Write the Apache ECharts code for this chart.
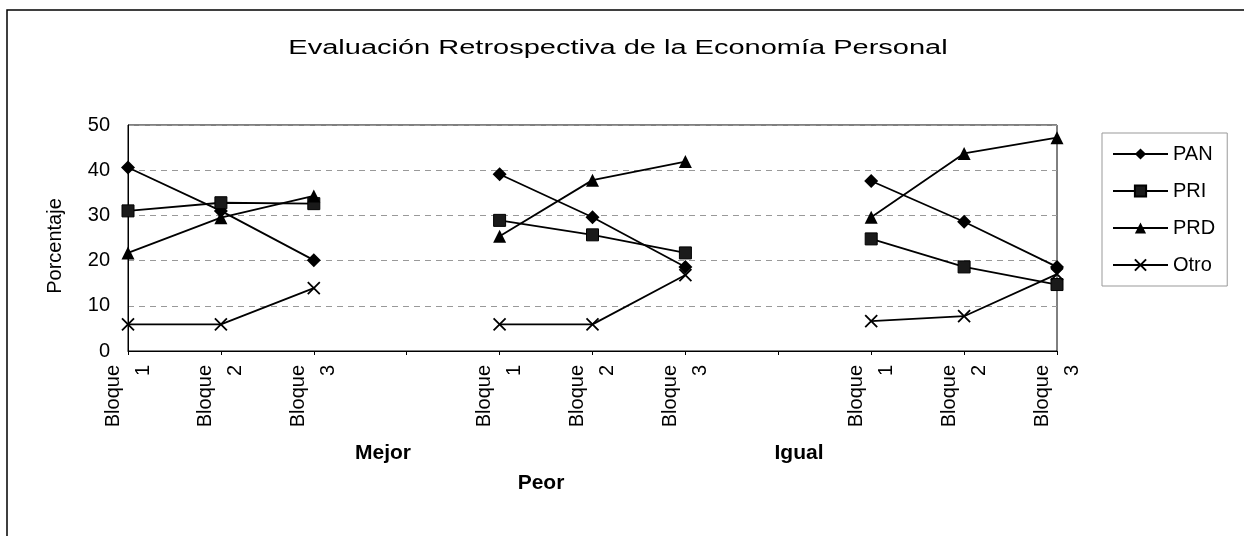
<!DOCTYPE html>
<html>
<head>
<meta charset="utf-8">
<script src="https://cdn.jsdelivr.net/npm/echarts@6/dist/echarts.min.js"></script>
<style>
  html, body { margin: 0; padding: 0; background: #fff; }
  #chart { width: 1244px; height: 536px; }
</style>
</head>
<body>
<div id="chart"></div>
<script>
// categorías: tres bloques por grupo, con un hueco entre grupos
const categories = [
  'Bloque\n1', 'Bloque\n2', 'Bloque\n3', '',
  'Bloque\n1', 'Bloque\n2', 'Bloque\n3', '',
  'Bloque\n1', 'Bloque\n2', 'Bloque\n3'
]
const groupLabels = ['Mejor', 'Peor', 'Igual']

// porcentajes ('-' = hueco)
const pan  = [40.6, 31.0, 20.1, '-', 39.1, 29.6, 18.6, '-', 37.6, 28.6, 18.6]
const pri  = [31.0, 32.8, 32.6, '-', 28.9, 25.7, 21.7, '-', 24.8, 18.6, 14.7]
const prd  = [21.7, 29.5, 34.3, '-', 25.4, 37.8, 41.9, '-', 29.6, 43.7, 47.2]
const otro = [5.9, 5.9, 13.9, '-', 5.9, 5.9, 16.8, '-', 6.6, 7.7, 17.0]

const FONT = 'Liberation Sans, Arial, sans-serif'
const crossPath = 'path://M0,0L10,10M10,0L0,10'

const chart = echarts.init(document.getElementById('chart'))

const mkSeries = (name, data, symbol, size, extra) => ({
  name,
  type: 'line',
  data,
  symbol,
  symbolSize: size,
  showSymbol: true,
  lineStyle: { color: '#000', width: 1.8 },
  itemStyle: Object.assign({ color: '#000' }, extra || {}),
  emphasis: { disabled: true },
  animation: false
})

const groupText = (label, x, y) => ({
  type: 'text',
  x,
  y,
  style: { text: label, font: 'bold 21px ' + FONT, fill: '#000', align: 'center', verticalAlign: 'middle' },
  silent: true
})

const option = {
  backgroundColor: '#fff',
  animation: false,
  textStyle: { fontFamily: FONT },
  grid: {
    left: 128,
    right: 187,
    top: 125,
    bottom: 185,
    show: true,
    borderColor: '#000',
    borderWidth: 1,
    backgroundColor: 'transparent'
  },
  legend: {
    orient: 'vertical',
    left: 1102,
    top: 133,
    data: ['PAN', 'PRI', 'PRD', 'Otro'],
    itemWidth: 55,
    itemHeight: 14,
    itemGap: 17,
    padding: [11, 12, 11, 10],
    borderColor: '#999',
    borderWidth: 1,
    textStyle: { fontFamily: FONT, fontSize: 20, color: '#000', lineHeight: 20 },
    selectedMode: false
  },
  xAxis: {
    type: 'category',
    data: categories,
    boundaryGap: false,
    axisLine: { lineStyle: { color: '#000', width: 1 } },
    axisTick: { show: true, inside: false, length: 4, interval: 0, lineStyle: { color: '#000' } },
    axisLabel: {
      interval: 0,
      rotate: 90,
      margin: 14,
      fontFamily: FONT,
      fontSize: 20,
      lineHeight: 30,
      color: '#000'
    },
    splitLine: { show: false }
  },
  yAxis: {
    type: 'value',
    min: 0,
    max: 50,
    interval: 10,
    name: 'Porcentaje',
    nameLocation: 'middle',
    nameGap: 63,
    nameTextStyle: { fontFamily: FONT, fontSize: 20, color: '#000', padding: [0, 16, 0, 0] },
    axisLine: { show: true, lineStyle: { color: '#000', width: 1 } },
    axisTick: { show: false },
    axisLabel: { fontFamily: FONT, fontSize: 20, color: '#000', margin: 18 },
    splitLine: { lineStyle: { color: '#999', type: [6, 5], width: 1 } }
  },
  graphic: [
    {
      type: 'rect',
      shape: { x: 7, y: 10, width: 1300, height: 600 },
      style: { fill: 'none', stroke: '#000', lineWidth: 1.5 },
      silent: true
    },
    {
      type: 'text',
      x: 618,
      y: 48,
      scaleX: 1.45,
      style: {
        text: 'Evaluación Retrospectiva de la Economía Personal',
        font: '20px ' + FONT,
        fill: '#000',
        align: 'center',
        verticalAlign: 'middle'
      },
      silent: true
    },
    groupText(groupLabels[0], 383, 453),
    groupText(groupLabels[1], 541, 483),
    groupText(groupLabels[2], 799, 453)
  ],
  series: [
    mkSeries('PAN', pan, 'diamond', 14),
    mkSeries('PRI', pri, 'rect', 12, { color: '#1a1a1a', borderColor: '#000', borderWidth: 1 }),
    mkSeries('PRD', prd, 'triangle', 13),
    mkSeries('Otro', otro, crossPath, 12, { color: '#000', borderColor: '#000', borderWidth: 1.8 })
  ]
}

chart.setOption(option)
</script>
</body>
</html>
